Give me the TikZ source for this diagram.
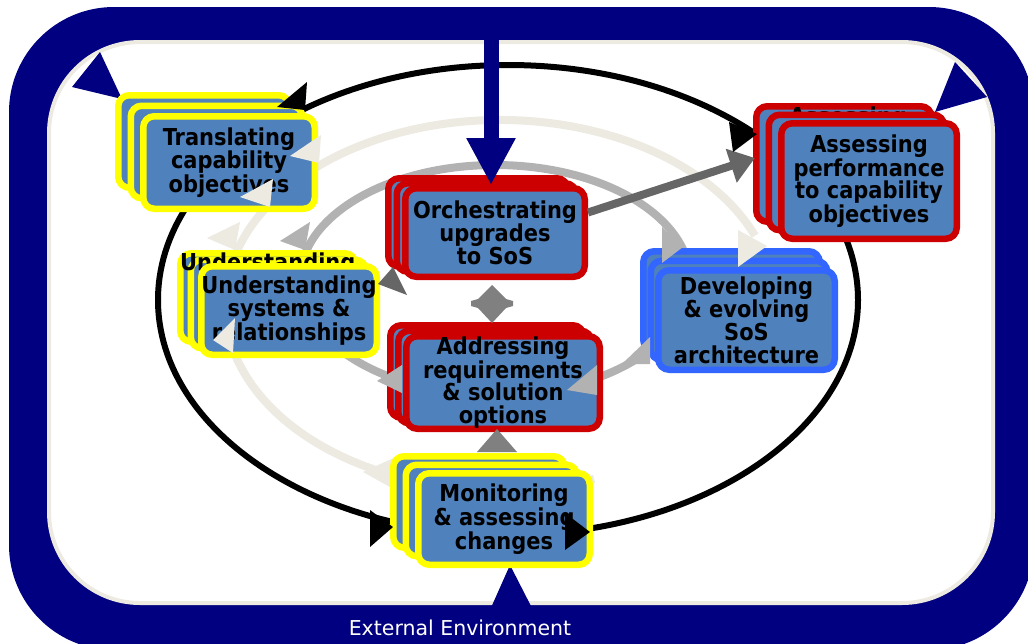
\documentclass[tikz,border=0pt]{standalone}
\usepackage{fontspec}
\usetikzlibrary{arrows.meta}
\newfontfamily\boxfont{DejaVu Sans Condensed Bold}
\newfontfamily\envfont{DejaVu Sans}

\definecolor{framenavy}{HTML}{000080}
\definecolor{paleloop}{HTML}{ECEAE1}
\definecolor{steel}{HTML}{4F81BD}
\definecolor{boxyellow}{HTML}{FFFF00}
\definecolor{boxred}{HTML}{CC0000}
\definecolor{boxblue}{HTML}{3366FF}
\definecolor{loopgrey}{HTML}{B2B2B2}
\definecolor{darkgrey}{HTML}{666666}
\definecolor{midgrey}{HTML}{808080}

% two copies stacked behind a box: name, colour, centre x, centre y, width, height, step x, step y
\newcommand\backcopies[8]{%
  \node[stackbox, draw=#2, minimum width=#5pt, minimum height=#6pt] (#1-back) at ({#3+2*(#7)},{#4+2*(#8)}) {};
  \node[stackbox, draw=#2, minimum width=#5pt, minimum height=#6pt] (#1-mid) at ({#3+#7},{#4+#8}) {};}

\begin{document}
\begin{tikzpicture}[x=1pt,y=-1pt,
  stackbox/.style={rectangle, rounded corners=11pt, line width=6.5pt, fill=steel,
    inner sep=0pt, align=center, font={\boxfont\fontsize{23.3}{22.6}\selectfont}},
  backtext/.style={inner sep=0pt, font={\boxfont\fontsize{23.3}{22.6}\selectfont}},
  loopline/.style={line width=8pt}]
\useasboundingbox (0,0) rectangle (1028,643);

% environment frame
\begin{scope}
  \clip (0,0) rectangle (1028,643);
  \fill[framenavy, rounded corners=105pt] (9,7) rectangle (1034,650);
\end{scope}
\draw[paleloop, line width=4pt, fill=white, rounded corners=91pt] (49,42) rectangle (993,603);
\node[text=white, font={\envfont\fontsize{20.5}{24}\selectfont}] (env) at (460,628) {External Environment};

% influence of the environment
\fill[framenavy] (72,87) -- (100,52) -- (122,99) -- cycle;
\fill[framenavy] (955,62) -- (987,97) -- (935,112) -- cycle;
\fill[framenavy] (490,610) -- (533,610) -- (510,565) -- cycle;

% the three loops
\draw[black, line width=6pt] (508,300) ellipse [x radius=350, y radius=235];
\draw[paleloop, loopline] (500,305) ++(70:275 and 185)
  arc [start angle=70, end angle=338, x radius=275, y radius=185];
\draw[loopgrey, loopline] (495,280) ellipse [x radius=195, y radius=115];

% heads lying behind the boxes
\fill[paleloop] (363,472) -- (400,455) -- (390,487) -- cycle;
\fill[paleloop] (207,238) -- (240,222) -- (235,250) -- cycle;
\fill[loopgrey] (280,241) -- (310,222) -- (305,250) -- cycle;

% Translating capability objectives
\backcopies{transl}{boxyellow}{229}{162.5}{171.5}{92.5}{-12.5}{-10.5}
\node[stackbox, draw=boxyellow, minimum width=171.5pt, minimum height=92.5pt] (transl) at (229,162.5)
  {Translating\\capability\\objectives};

% Understanding systems & relationships
\backcopies{under}{boxyellow}{289}{310.5}{175.5}{88.5}{-10.5}{-6.5}
\node[backtext, anchor=base west] (under-t1) at (180,270) {Understanding};
\node[stackbox, draw=boxyellow, minimum width=175.5pt, minimum height=88.5pt] (under) at (289,310.5)
  {Understanding\\systems \&\\relationships};

% Orchestrating upgrades to SoS
\backcopies{orch}{boxred}{495}{232.5}{179.5}{88.5}{-8.5}{-5}
\node[stackbox, draw=boxred, minimum width=179.5pt, minimum height=88.5pt] (orch) at (495,232.5)
  {Orchestrating\\upgrades\\to SoS};

% Addressing requirements & solution options
\backcopies{addr}{boxred}{503}{382.5}{193.5}{92.5}{-8}{-5.5}
\node[stackbox, draw=boxred, minimum width=193.5pt, minimum height=92.5pt] (addr) at (503,382.5)
  {Addressing\\requirements\\\& solution\\options};

% Assessing performance to capability objectives
\node[stackbox, draw=boxred, minimum width=175.5pt, minimum height=115.5pt] (assess-back) at (844,164) {};
\node[backtext, anchor=base] (assess-t1) at (848,124) {Assessing};
\node[stackbox, draw=boxred, minimum width=175.5pt, minimum height=115.5pt] (assess-mid) at (856.5,172.5) {};
\node[stackbox, draw=boxred, minimum width=175.5pt, minimum height=115.5pt] (assess) at (869,181)
  {Assessing\\performance\\to capability\\objectives};

% Developing & evolving SoS architecture
\backcopies{dev}{boxblue}{746.5}{320}{176.5}{99.5}{-7.5}{-9.5}
\node[stackbox, draw=boxblue, minimum width=176.5pt, minimum height=99.5pt] (dev) at (746.5,320)
  {Developing\\\& evolving\\SoS\\architecture};

% Monitoring & assessing changes
\backcopies{mon}{boxyellow}{504}{519}{171.5}{91.5}{-12.5}{-8.5}
\node[stackbox, draw=boxyellow, minimum width=171.5pt, minimum height=91.5pt] (mon) at (504,519)
  {Monitoring\\\& assessing\\changes};

% direction into the SoS
\draw[framenavy, line width=15pt, -{Triangle[length=47pt, width=46pt]}]
  (491,36) -- ([xshift=-4pt]orch.north);

% orchestration reaches assessment
\draw[darkgrey, line width=8pt, -{Triangle[length=25pt, width=34pt]}]
  ([yshift=20pt]orch.east) -- ([yshift=6pt, xshift=2pt]assess-back.west);
\fill[darkgrey] (378,284) -- (393,267) -- (407,295) -- cycle;

% exchange between orchestration and requirements
\fill[midgrey] (492,285) -- (506,299) -- (513,301) -- (513,306) -- (506,308) -- (492,323)
  -- (478,308) -- (471,306) -- (471,301) -- (478,299) -- cycle;
\fill[midgrey] (497,429) -- (477,452) -- (517,452) -- cycle;

% heads of the outer loop
\fill[black] (277,107) -- (307,82) -- (305,110) -- cycle;
\fill[black] (729,122) -- (733,152) -- (757,134) -- cycle;
\fill[black] (370,510) -- (370,547) -- (393,527) -- cycle;
\fill[black] (565,513) -- (565,550) -- (590,532) -- cycle;

% heads of the middle loop
\fill[paleloop] (290,156) -- (321,135) -- (319,163) -- cycle;
\fill[paleloop] (240,197) -- (273,179) -- (270,207) -- cycle;
\fill[paleloop] (213,340) -- (235,318) -- (233,353) -- cycle;
\fill[paleloop] (738,230) -- (738,267) -- (767,246) -- cycle;

% heads of the inner loop
\fill[loopgrey] (662,227) -- (662,263) -- (683,247) -- cycle;
\fill[loopgrey] (377,381) -- (402,365) -- (402,393) -- cycle;
\fill[loopgrey] (567,390) -- (597,365) -- (597,395) -- cycle;
\fill[loopgrey] (622,364) -- (650,337) -- (650,364) -- cycle;
\end{tikzpicture}
\end{document}
